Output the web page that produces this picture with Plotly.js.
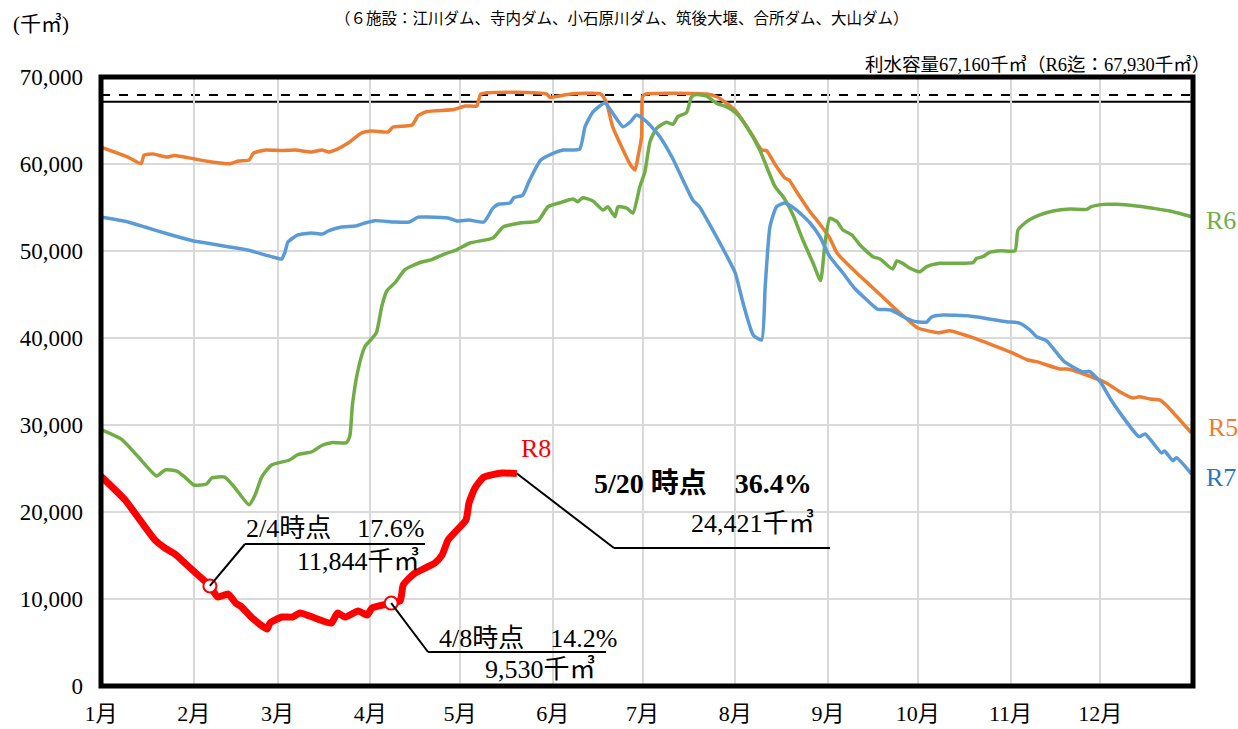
<!DOCTYPE html>
<html>
<head>
<meta charset="utf-8">
<script src="https://cdn.plot.ly/plotly-3.0.1.min.js"></script>
<style>html,body{margin:0;padding:0;background:#fff;}#chart{width:1238px;height:729px;}</style>
</head>
<body>
<div id="chart"></div>
<script>
// ---- data (day of year from Jan 1 = 0, value in 千㎥) ----
const monthDays = [0,31,59,90,120,151,181,212,243,273,304,334];
const monthLabels = ['1月','2月','3月','4月','5月','6月','7月','8月','9月','10月','11月','12月'];
const yTicks = [0,10000,20000,30000,40000,50000,60000,70000];

const r5Day = [0,9,13.4,14.4,17.4,22,24.7,31.4,37,43,46,49.5,51,55,60.4,65,70.4,73.8,76,79,82.6,87,90.5,96,97.6,104,106,109,118,121.7,125.6,127,149,150,157,167,169,171,174.5,177,178.5,179.5,180.7,181,182,202.4,205.8,209,212.4,217,220.8,222.5,225,228.6,230,232.5,237,240,243.6,246,252.6,257.6,264.7,269,273,280,283.7,290.4,298,304.8,309.8,312.7,320.5,323,329.4,336,340.5,345,347,350.6,354,356,364.5];
const r5Val = [61950,60800,60030,61030,61150,60800,60990,60570,60230,60030,60340,60460,61260,61610,61540,61610,61380,61610,61380,61720,62410,63560,63790,63680,64250,64480,65570,66030,66260,66670,66670,68040,68040,67670,68040,68040,67010,64290,61610,59880,59310,60840,63140,67730,68040,68040,67730,67010,66010,63710,61610,61530,60110,58390,58160,56820,54520,53220,51490,49770,47470,45900,43600,42300,41150,40610,40840,40150,39190,38270,37470,37280,36440,36440,35750,34830,33830,33100,33250,32990,32870,32300,29080];

const r6Day = [0,7,12.5,18.6,21.4,25.3,28,31,35.3,37,41.4,44.8,49.5,51.5,53.7,57,63,65.8,70.4,73.8,77,82,83.2,84,85.9,88.2,92,93.8,95.5,98.3,101.6,106.6,110.5,115,118.9,123.3,131,134.4,140,146,149.4,153.4,157.8,159.4,161,164.4,167.8,169.4,171.8,172.8,175.7,177.8,180.1,181.8,183.5,185.7,189,191.2,192.8,195.7,197.4,199,202.4,205.8,209,212.4,215.8,220.2,225.3,228,231.3,234.6,238,240.5,242,243.6,246,248,251,253.7,258,260.4,264.6,266,268,270.4,273.7,276,280.4,291.5,292.7,294.8,297,300.9,305.5,306.5,309.4,313.8,318.2,323.9,329.5,331,335,339.5,346,351.6,357.3,364.5];
const r6Val = [29460,28320,26320,24140,24830,24710,24020,23100,23220,23910,24020,22760,20830,21950,24020,25400,25980,26600,26900,27640,27970,27970,28780,32180,36320,39000,40570,43560,45400,46370,47860,48680,49000,49680,50140,50920,51490,52760,53220,53450,55090,55550,55970,55670,56120,55750,54710,55090,53940,55090,54940,54370,57390,59110,62560,64100,64790,64560,65440,65900,67730,67990,67810,66970,66590,65820,64290,61610,57390,56240,54140,51260,48620,46600,50920,53760,53370,52410,51840,50690,49350,49080,47930,48850,48580,48010,47620,48200,48580,48660,49160,49350,49850,50030,50030,52410,53370,54140,54600,54830,54790,55090,55360,55360,55170,54910,54600,53940];

const r7Day = [0,9,14.7,22.4,31,34.7,42.4,49,57,60.4,61.5,62.5,65.8,70.4,74,76,80.4,85,88.2,91.5,98,103,106,109,116,119,123,128,131,133,136.7,138,141,143,147,151.7,154.5,160,161.8,164.5,168.4,171,174.5,177,179,182.4,186.8,191,194.5,197.8,200,204.5,209,212,214.6,218,220.8,222,223.6,225.8,228.6,232.5,237,240.3,243.6,248,251.8,256,259.5,264,269,272.6,276,277.6,281.4,290.4,302.7,307,310.5,312.7,316,322,328,330.5,334,338,347,349,354.5,355.5,358.3,359.5,364.5];
const r7Val = [53900,53330,52760,51950,51150,50950,50500,50110,49350,49080,49880,51030,51840,52070,51950,52300,52760,52870,53220,53490,53330,53330,53900,53900,53790,53450,53560,53330,54930,55400,55510,56120,56430,57960,60460,61300,61610,61720,64290,66010,67010,65860,64290,64860,65630,64860,63140,60690,58160,55860,55090,52410,49540,47470,44020,40340,39770,45900,52790,55090,55510,54710,53220,51640,49350,47470,45750,44370,43330,43220,42300,41870,41830,42410,42640,42530,41870,41720,40920,40150,39690,37280,36130,36130,34980,32680,28660,28970,26780,27010,25900,26240,24370];

const r8Day = [0,8,18,21.4,24.7,28,32.4,36.4,39,42.5,45,47,50.5,55.5,56.5,60.5,64,66.5,71.5,77,79,81.5,86,89,90.6,97,100,101,103,105,111.6,114,116,119,122,123,125,128,134,139];
const r8Val = [24100,21400,16800,15860,15170,14140,12760,11500,10230,10570,9540,9080,7820,6550,7240,7930,7930,8390,7820,7240,8390,7930,8620,8160,8970,9530,9800,11600,12400,12990,14140,15060,16780,17930,19080,21030,22760,24020,24480,24421];

const markDay = [36.4, 97];
const markVal = [11500, 9530];

const capacityNow = 67160;
const capacityR6 = 67930;

// ---- layout helpers (pixel -> paper) ----
const L = 101, R = 1193, T = 77, B = 686, XMAX = 365, YMAX = 70000;
const fx = px => (px - L) / (R - L);
const fy = py => (B - py) / (B - T);
const dxp = d => d / XMAX;
const dyp = v => v / YMAX;

const SERIF = "'Liberation Serif', 'Noto Sans CJK JP', serif";
const SANSJ = "'Noto Sans CJK JP', sans-serif";

const SM = 0.5;
const traces = [
  {x: r5Day, y: r5Val, mode: 'lines', line: {color: '#ED7D31', width: 3.5, shape: 'spline', smoothing: SM}, hoverinfo: 'skip'},
  {x: r6Day, y: r6Val, mode: 'lines', line: {color: '#70AD47', width: 3.5, shape: 'spline', smoothing: SM}, hoverinfo: 'skip'},
  {x: r7Day, y: r7Val, mode: 'lines', line: {color: '#5B9BD5', width: 3.5, shape: 'spline', smoothing: SM}, hoverinfo: 'skip'},
  {x: r8Day, y: r8Val, mode: 'lines', line: {color: '#FF0000', width: 7, shape: 'spline', smoothing: SM}, hoverinfo: 'skip'},
  {x: markDay, y: markVal, mode: 'markers', marker: {size: 13, color: '#FFFFFF', line: {color: '#FF0000', width: 2}}, hoverinfo: 'skip'}
];

const lastI = r8Day.length - 1;
const shapes = [
  // capacity lines
  {type: 'line', xref: 'paper', x0: 0, x1: 1, yref: 'y', y0: capacityR6, y1: capacityR6, line: {color: '#000', width: 2, dash: 'dash'}, layer: 'below'},
  {type: 'line', xref: 'paper', x0: 0, x1: 1, yref: 'y', y0: capacityNow, y1: capacityNow, line: {color: '#000', width: 2}, layer: 'below'},
  // leader 1
  {type: 'line', xref: 'paper', yref: 'paper', x0: dxp(markDay[0]), y0: dyp(markVal[0]), x1: fx(245), y1: fy(544), line: {color: '#000', width: 2}},
  {type: 'line', xref: 'paper', yref: 'paper', x0: fx(245), y0: fy(544), x1: fx(425), y1: fy(544), line: {color: '#000', width: 2}},
  // leader 2
  {type: 'line', xref: 'paper', yref: 'paper', x0: dxp(markDay[1]), y0: dyp(markVal[1]), x1: fx(428), y1: fy(652), line: {color: '#000', width: 2}},
  {type: 'line', xref: 'paper', yref: 'paper', x0: fx(428), y0: fy(652), x1: fx(606), y1: fy(652), line: {color: '#000', width: 2}},
  // leader 3
  {type: 'line', xref: 'paper', yref: 'paper', x0: dxp(r8Day[lastI]), y0: dyp(r8Val[lastI]), x1: fx(614), y1: fy(548), line: {color: '#000', width: 2}},
  {type: 'line', xref: 'paper', yref: 'paper', x0: fx(614), y0: fy(548), x1: fx(830), y1: fy(548), line: {color: '#000', width: 2}},
  // frame
  {type: 'rect', xref: 'paper', yref: 'paper', x0: 0, y0: 0, x1: 1, y1: 1, line: {color: '#000', width: 5}, layer: 'above'}
];

function ann(text, px, py, opts) {
  return Object.assign({
    text: text, xref: 'paper', yref: 'paper', x: fx(px), y: fy(py),
    xanchor: 'center', yanchor: 'middle', showarrow: false,
    font: {family: SERIF, size: 26, color: '#000'}
  }, opts || {});
}

const annotations = [
  ann('(千㎥)', 41, 24, {font: {family: SERIF, size: 21, color: '#000'}}),
  ann('（６施設：江川ダム、寺内ダム、小石原川ダム、筑後大堰、合所ダム、大山ダム）', 622, 17, {font: {family: SANSJ, size: 15.5, color: '#000'}}),
  ann('利水容量67,160千㎥（R6迄：67,930千㎥）', 1212, 65, {xanchor: 'right', font: {family: SERIF, size: 18.5, color: '#000'}}),
  ann('R6', 1221, 220, {font: {family: SERIF, size: 26, color: '#70AD47'}}),
  ann('R5', 1223, 427, {font: {family: SERIF, size: 26, color: '#ED7D31'}}),
  ann('R7', 1221, 477, {font: {family: SERIF, size: 26, color: '#2E75B6'}}),
  ann('R8', 536, 449, {font: {family: SERIF, size: 26, color: '#FF0000'}}),
  ann('2/4時点　17.6%', 426, 528),
  ann('11,844千㎥', 422, 561, {xanchor: 'right'}),
  ann('4/8時点　14.2%', 619, 638, {xanchor: 'right'}),
  ann('9,530千㎥', 598, 669, {xanchor: 'right'}),
  ann('<b>5/20 時点　36.4%</b>', 814, 483, {xanchor: 'right', font: {family: SERIF, size: 28, color: '#000'}}),
  ann('24,421千㎥', 817, 523, {xanchor: 'right'})
];
annotations[7].xanchor = 'right';

const layout = {
  width: 1238, height: 729,
  margin: {l: L, r: 1238 - R, t: T, b: 729 - B},
  paper_bgcolor: '#fff', plot_bgcolor: '#fff',
  showlegend: false,
  xaxis: {
    range: [0, XMAX], tickvals: monthDays, ticktext: monthLabels,
    showgrid: true, gridcolor: '#D9D9D9', gridwidth: 2, zeroline: false, showline: false,
    ticks: '', ticklabelstandoff: 12,
    tickfont: {family: SERIF, size: 22, color: '#000'}, fixedrange: true
  },
  yaxis: {
    range: [0, YMAX], tickvals: yTicks, tickformat: ',d',
    showgrid: true, gridcolor: '#D9D9D9', gridwidth: 2, zeroline: false, showline: false,
    ticks: '', ticklabelstandoff: 17,
    tickfont: {family: SERIF, size: 23, color: '#000'}, fixedrange: true
  },
  shapes: shapes,
  annotations: annotations
};

Plotly.newPlot('chart', traces, layout, {displayModeBar: false, staticPlot: true});
</script>
</body>
</html>
